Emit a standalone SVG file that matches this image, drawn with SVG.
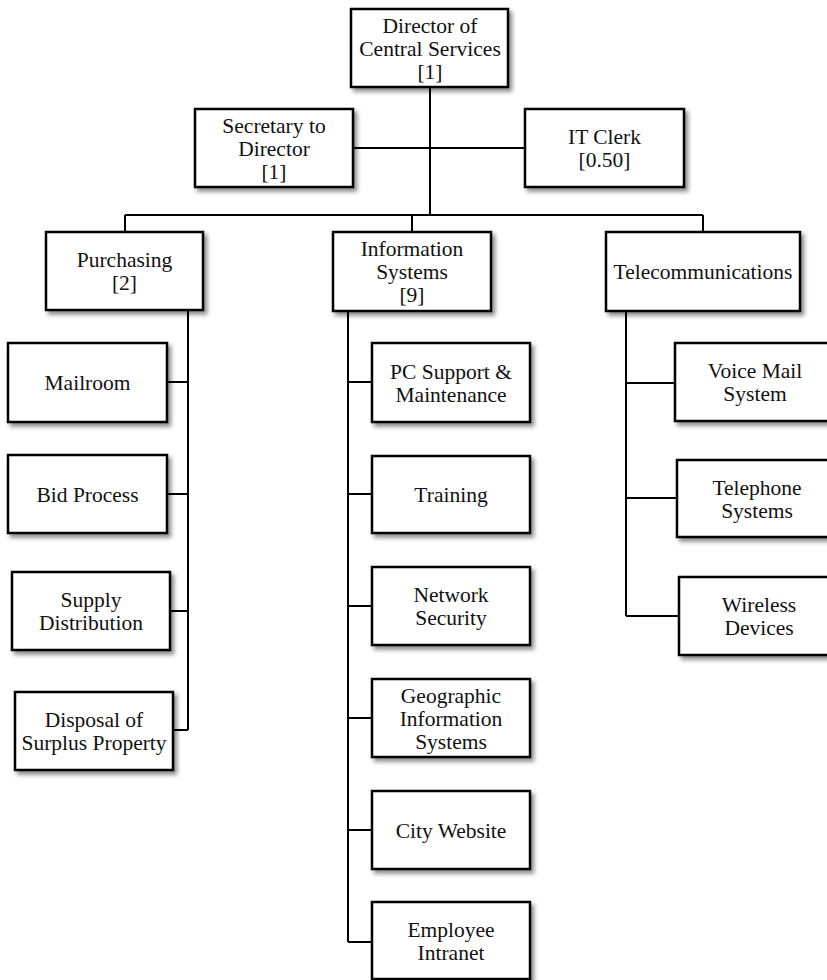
<svg xmlns="http://www.w3.org/2000/svg" width="827" height="980" viewBox="0 0 827 980">
  <defs>
    <filter id="shadow" x="-10%" y="-10%" width="125%" height="130%">
      <feDropShadow dx="3" dy="3.5" stdDeviation="2" flood-color="#000" flood-opacity="0.45"/>
    </filter>
  </defs>
  <style>
    .box { fill: #fff; stroke: #000; stroke-width: 2.5; filter: url(#shadow); }
    text { font-family: 'Liberation Serif', 'Noto Serif', 'DejaVu Serif', serif; font-size: 21.5px; fill: #111; text-anchor: middle; }
    .wire { fill: none; stroke: #000; stroke-width: 2; }
  </style>
  <rect width="827" height="980" fill="#fff"/>

  <!-- connectors -->
  <g id="connectors" class="wire">
    <path d="M430,87 V215"/>
    <path d="M353,148 H525"/>
    <path d="M125,215 H703"/>
    <path d="M125,215 V232"/>
    <path d="M412,215 V232"/>
    <path d="M703,215 V232"/>
    <!-- Purchasing branch -->
    <path d="M188,310 V730"/>
    <path d="M167,382 H188 M167,494 H188 M170,611 H188 M173,730 H188"/>
    <!-- Information Systems branch -->
    <path d="M348,311 V942"/>
    <path d="M348,382 H372 M348,494 H372 M348,606 H372 M348,718 H372 M348,830 H372 M348,942 H372"/>
    <!-- Telecommunications branch -->
    <path d="M626,311 V616"/>
    <path d="M626,383 H675 M626,498 H677 M626,616 H679"/>
  </g>

  <g id="director">
    <rect class="box" x="351" y="9" width="157" height="78"/>
    <text x="430" y="32.5">Director of</text>
    <text x="430" y="55.5">Central Services</text>
    <text x="430" y="78.5">[1]</text>
  </g>
  <g id="secretary">
    <rect class="box" x="195" y="109" width="158" height="78"/>
    <text x="274" y="132.5">Secretary to</text>
    <text x="274" y="155.5">Director</text>
    <text x="274" y="178.5">[1]</text>
  </g>
  <g id="it-clerk">
    <rect class="box" x="525" y="109" width="159" height="78"/>
    <text x="604.5" y="144">IT Clerk</text>
    <text x="604.5" y="167">[0.50]</text>
  </g>

  <g id="purchasing">
    <rect class="box" x="46" y="232" width="157" height="78"/>
    <text x="124.5" y="267">Purchasing</text>
    <text x="124.5" y="290">[2]</text>
  </g>
  <g id="information-systems">
    <rect class="box" x="333" y="232" width="158" height="79"/>
    <text x="412" y="256">Information</text>
    <text x="412" y="279">Systems</text>
    <text x="412" y="302">[9]</text>
  </g>
  <g id="telecommunications">
    <rect class="box" x="606" y="232" width="194" height="79"/>
    <text x="703" y="279">Telecommunications</text>
  </g>

  <!-- Purchasing units -->
  <g id="mailroom">
    <rect class="box" x="8" y="343" width="159" height="79"/>
    <text x="87.5" y="390">Mailroom</text>
  </g>
  <g id="bid-process">
    <rect class="box" x="8" y="455" width="159" height="78"/>
    <text x="87.5" y="501.5">Bid Process</text>
  </g>
  <g id="supply-distribution">
    <rect class="box" x="12" y="572" width="158" height="78"/>
    <text x="91" y="607">Supply</text>
    <text x="91" y="630">Distribution</text>
  </g>
  <g id="disposal">
    <rect class="box" x="15" y="692" width="158" height="78"/>
    <text x="94" y="727">Disposal of</text>
    <text x="94" y="750">Surplus Property</text>
  </g>

  <!-- Information Systems units -->
  <g id="pc-support">
    <rect class="box" x="372" y="343" width="158" height="79"/>
    <text x="451" y="378.5">PC Support &amp;</text>
    <text x="451" y="401.5">Maintenance</text>
  </g>
  <g id="training">
    <rect class="box" x="372" y="456" width="158" height="77"/>
    <text x="451" y="502">Training</text>
  </g>
  <g id="network-security">
    <rect class="box" x="372" y="567" width="158" height="78"/>
    <text x="451" y="602">Network</text>
    <text x="451" y="625">Security</text>
  </g>
  <g id="gis">
    <rect class="box" x="372" y="679" width="158" height="78"/>
    <text x="451" y="702.5">Geographic</text>
    <text x="451" y="725.5">Information</text>
    <text x="451" y="748.5">Systems</text>
  </g>
  <g id="city-website">
    <rect class="box" x="372" y="791" width="158" height="78"/>
    <text x="451" y="837.5">City Website</text>
  </g>
  <g id="employee-intranet">
    <rect class="box" x="372" y="902" width="158" height="77"/>
    <text x="451" y="937">Employee</text>
    <text x="451" y="960">Intranet</text>
  </g>

  <!-- Telecommunications units -->
  <g id="voice-mail">
    <rect class="box" x="675" y="343" width="160" height="78"/>
    <text x="755" y="378">Voice Mail</text>
    <text x="755" y="401">System</text>
  </g>
  <g id="telephone">
    <rect class="box" x="677" y="460" width="160" height="77"/>
    <text x="757" y="494.5">Telephone</text>
    <text x="757" y="517.5">Systems</text>
  </g>
  <g id="wireless">
    <rect class="box" x="679" y="577" width="160" height="78"/>
    <text x="759" y="612">Wireless</text>
    <text x="759" y="635">Devices</text>
  </g>
</svg>
